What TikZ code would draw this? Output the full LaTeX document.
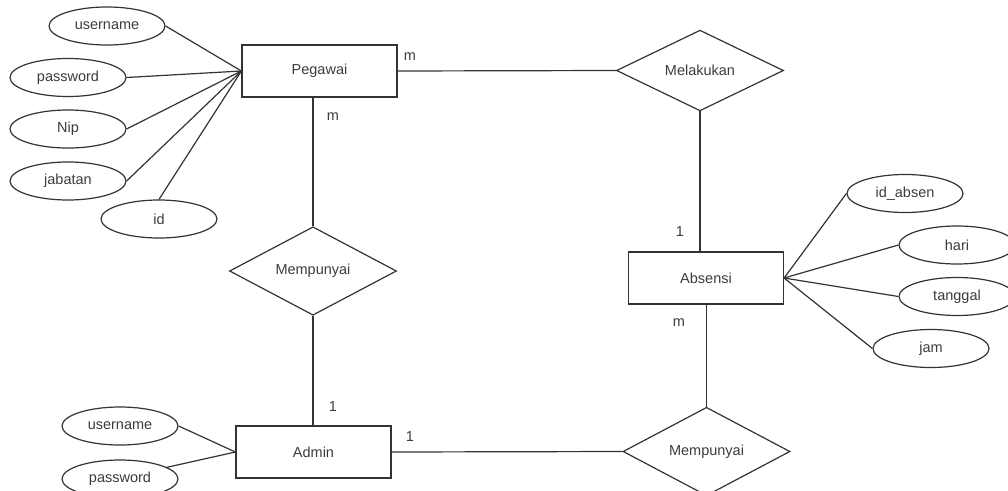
\documentclass[tikz,border=0pt]{standalone}
\usepackage{fontspec}
\setmainfont{Liberation Sans}
\usetikzlibrary{shapes.geometric}
\definecolor{ink}{RGB}{51,51,51}
\definecolor{txt}{RGB}{60,60,60}
\tikzset{
  base/.style={draw=ink, line width=1.2pt, inner sep=0pt, text=txt, font=\fontsize{14.5}{17}\selectfont},
  entity/.style={base, rectangle, minimum width=155pt, minimum height=52pt},
  attr/.style={base, ellipse, minimum width=116pt, minimum height=38pt},
  rel/.style={base, diamond, minimum width=167pt, minimum height=64pt},
  link/.style={draw=ink, line width=1.2pt},
  card/.style={text=txt, font=\fontsize{14.5}{17}\selectfont, inner sep=0pt}
}
\begin{document}
\begin{tikzpicture}[x=1pt,y=-1pt]
\useasboundingbox (0,0) rectangle (1008,490);
\begin{scope}
\clip (0,0) rectangle (1008,490);
% entities
\node[entity] (pegawai) at (319.5,71) {Pegawai};
\node[entity] (absensi) at (706,278) {Absensi};
\node[entity] (admin) at (313.5,452) {Admin};
% relationships
\node[rel] (melakukan) at (700,70.5) {Melakukan};
\node[rel] (mp1) at (313,271) {Mempunyai};
\node[rel] (mp2) at (706.5,451.5) {Mempunyai};
% Pegawai attributes
\node[attr] (pusername) at (107,26) {username};
\node[attr] (ppassword) at (68,77.5) {password};
\node[attr] (pnip) at (68,129) {Nip};
\node[attr] (pjabatan) at (68,181) {jabatan};
\node[attr] (pid) at (159,219) {id};
% Absensi attributes
\node[attr] (aidabsen) at (905,193.5) {id\_absen};
\node[attr] (ahari) at (957,245) {hari};
\node[attr] (atanggal) at (957,296.5) {tanggal};
\node[attr] (ajam) at (931,348.5) {jam};
% Admin attributes
\node[attr] (dusername) at (120,426) {username};
\node[attr] (dpassword) at (120,479) {password};
% attribute links
\foreach \a in {pusername,ppassword,pnip,pjabatan} \draw[link] (\a.east) -- (pegawai.west);
\draw[link] (pid.north) -- (pegawai.west);
\foreach \a in {aidabsen,ahari,atanggal,ajam} \draw[link] (\a.west) -- (absensi.east);
\draw[link] (dusername.east) -- (admin.west);
\draw[link] (dpassword.14) -- (admin.west);
% relationship links
\draw[link] (pegawai.east) -- (melakukan.west);
\draw[link] (melakukan.south) -- (melakukan.south |- absensi.north);
\draw[link] (pegawai.south -| mp1.north) -- (mp1.north);
\draw[link] (mp1.south) -- (mp1.south |- admin.north);
\draw[link] (absensi.south) -- (absensi.south -| mp2.north) -- (mp2.north);
\draw[link] (admin.east) -- (mp2.west);
% cardinalities
\node[card] (c1) at (410,57) {m};
\node[card] (c2) at (333,117) {m};
\node[card] (c3) at (680,232) {1};
\node[card] (c4) at (679,323) {m};
\node[card] (c5) at (333,407) {1};
\node[card] (c6) at (410,437) {1};
\end{scope}
\end{tikzpicture}
\end{document}
